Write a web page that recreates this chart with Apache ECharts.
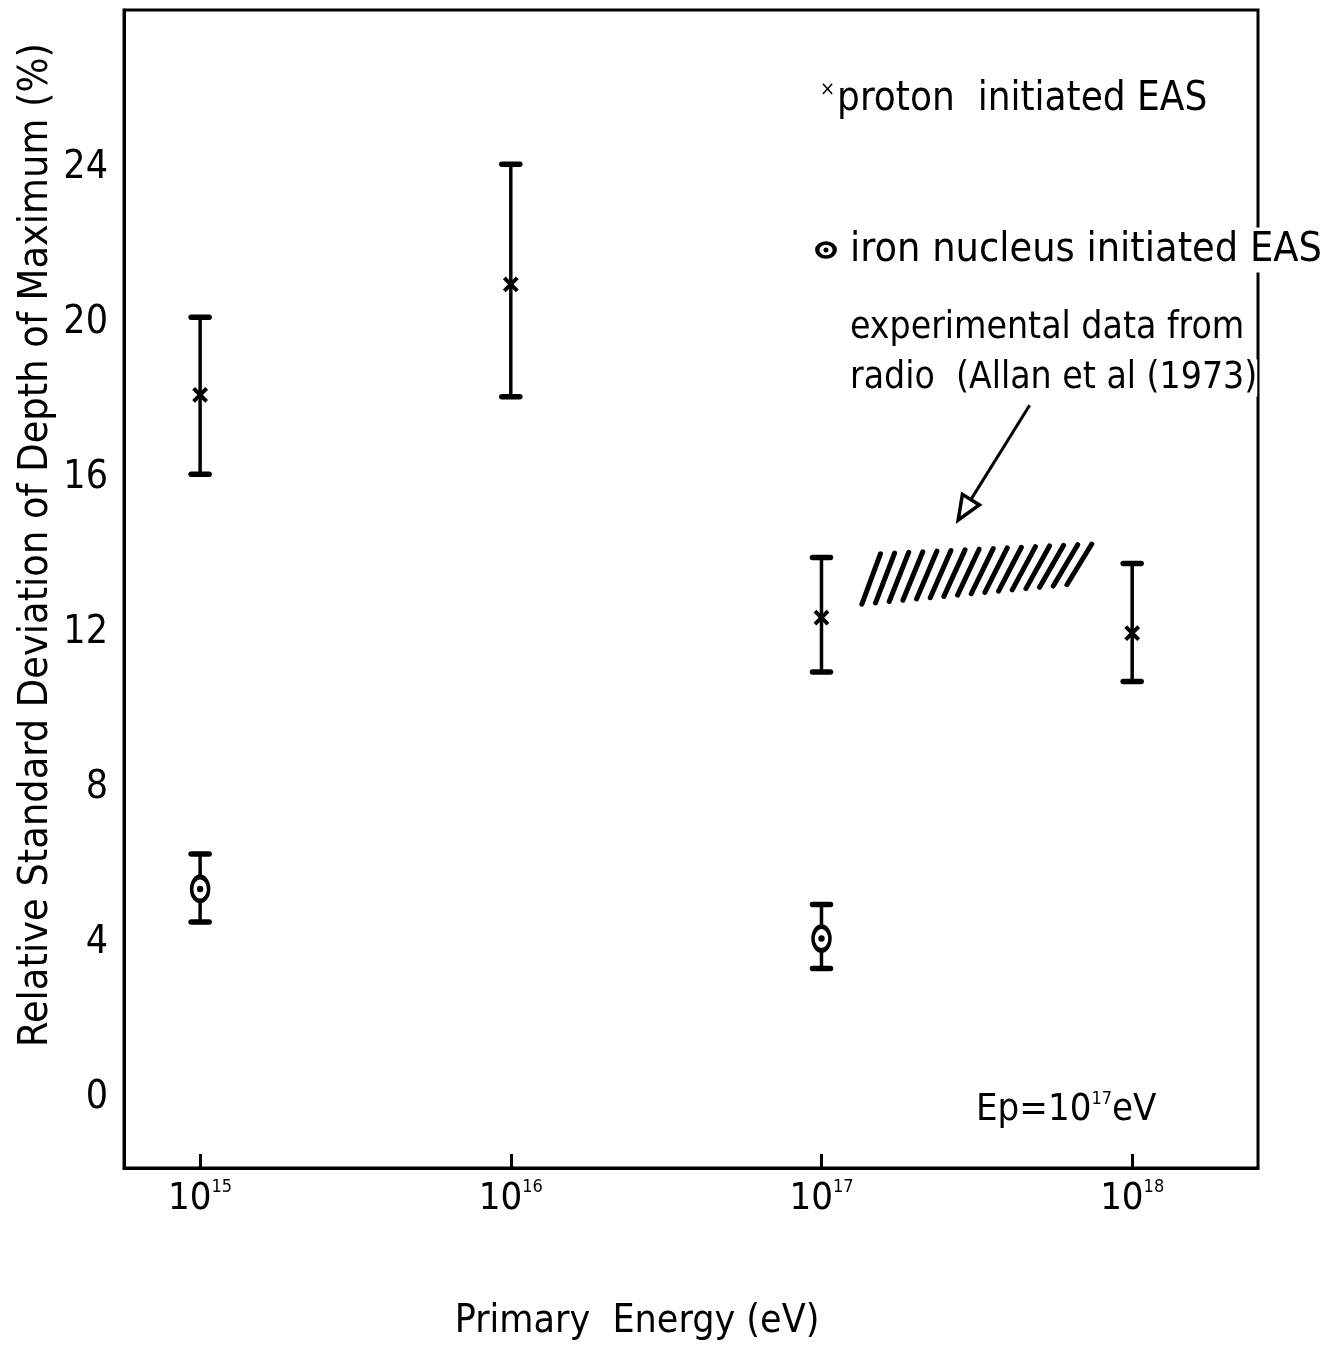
<!DOCTYPE html>
<html>
<head>
<meta charset="utf-8">
<script src="https://cdn.jsdelivr.net/npm/echarts@6/dist/echarts.min.js"></script>
<style>
html,body{margin:0;padding:0;background:#fff;}
#c{width:1339px;height:1345px;}
</style>
</head>
<body>
<div id="c"></div>
<script>
// ---- data (x values are log10 of primary energy in eV) ----
const xTickExp = [15, 16, 17, 18];
const yTickValues = [0, 4, 8, 12, 16, 20, 24];

const protonExp  = [15, 16, 17, 18];
const protonMean = [18.15, 21.0, 12.4, 12.0];
const protonLow  = [16.1, 18.1, 11.0, 10.75];
const protonHigh = [20.15, 24.1, 13.95, 13.8];

const ironExp  = [15, 17];
const ironMean = [5.4, 4.12];
const ironLow  = [4.55, 3.35];
const ironHigh = [6.3, 5.0];

// experimental band (radio, Allan et al 1973): bottom edge and top edge
const bandBottom = [[17.13, 12.75], [17.79, 13.25]];
const bandTop    = [[17.19, 14.05], [17.87, 14.30]];

// arrow from annotation to band
const arrowFrom = [17.67, 17.88];
const arrowTo   = [17.44, 14.92];

const FONT = "'DejaVu Sans Condensed','Liberation Sans',sans-serif";

const chart = echarts.init(document.getElementById('c'), null, {renderer: 'canvas'});

function errRender(kind) {
  return function (params, api) {
    const x = api.value(0);
    const pLo = api.coord([x, api.value(1)]);
    const pHi = api.coord([x, api.value(2)]);
    const pM = api.coord([x, api.value(3)]);
    const cw = 9;
    const st = {stroke: '#000', lineWidth: 3.5, lineCap: 'round'};
    const capSt = {stroke: '#000', lineWidth: 5.5, lineCap: 'round'};
    const ch = [
      {type: 'line', shape: {x1: pLo[0], y1: pLo[1], x2: pHi[0], y2: pHi[1]}, style: st},
      {type: 'line', shape: {x1: pLo[0] - cw, y1: pLo[1], x2: pLo[0] + cw, y2: pLo[1]}, style: capSt},
      {type: 'line', shape: {x1: pHi[0] - cw, y1: pHi[1], x2: pHi[0] + cw, y2: pHi[1]}, style: capSt}
    ];
    if (kind === 'proton') {
      const s = 6.5;
      ch.push({type: 'line', shape: {x1: pM[0] - s, y1: pM[1] - s, x2: pM[0] + s, y2: pM[1] + s}, style: {stroke: '#000', lineWidth: 4}});
      ch.push({type: 'line', shape: {x1: pM[0] - s, y1: pM[1] + s, x2: pM[0] + s, y2: pM[1] - s}, style: {stroke: '#000', lineWidth: 4}});
    } else {
      ch.push({type: 'circle', shape: {cx: 0, cy: 0, r: 8.5}, x: pM[0], y: pM[1], scaleY: 1.4,
        style: {fill: '#fff', stroke: '#000', lineWidth: 3.5, strokeNoScale: true}});
      ch.push({type: 'circle', shape: {cx: pM[0], cy: pM[1], r: 3.2}, style: {fill: '#000'}});
    }
    return {type: 'group', children: ch};
  };
}

const protonData = protonExp.map((x, i) => [x, protonLow[i], protonHigh[i], protonMean[i]]);
const ironData = ironExp.map((x, i) => [x, ironLow[i], ironHigh[i], ironMean[i]]);

function bandRender(params, api) {
  const bl = api.coord(bandBottom[0]), br = api.coord(bandBottom[1]);
  const tl = api.coord(bandTop[0]), tr = api.coord(bandTop[1]);
  const n = 16;
  const ch = [];
  for (let i = 0; i < n; i++) {
    const t = i / (n - 1);
    const b = [bl[0] + (br[0] - bl[0]) * t, bl[1] + (br[1] - bl[1]) * t];
    const tp = [tl[0] + (tr[0] - tl[0]) * t, tl[1] + (tr[1] - tl[1]) * t];
    ch.push({type: 'line', shape: {x1: b[0], y1: b[1], x2: tp[0], y2: tp[1]},
      style: {stroke: '#000', lineWidth: 5, lineCap: 'round'}});
  }
  return {type: 'group', children: ch};
}

function arrowRender(params, api) {
  const a = api.coord(arrowFrom), b = api.coord(arrowTo);
  const ang = Math.atan2(b[1] - a[1], b[0] - a[0]);
  const L = 24, W = 10;
  const base = [b[0] - L * Math.cos(ang), b[1] - L * Math.sin(ang)];
  const p1 = [base[0] + W * Math.sin(ang), base[1] - W * Math.cos(ang)];
  const p2 = [base[0] - W * Math.sin(ang), base[1] + W * Math.cos(ang)];
  return {type: 'group', children: [
    {type: 'line', shape: {x1: a[0], y1: a[1], x2: base[0], y2: base[1]}, style: {stroke: '#000', lineWidth: 3}},
    {type: 'polygon', shape: {points: [b, p1, p2]}, style: {fill: '#fff', stroke: '#000', lineWidth: 3.5}}
  ]};
}

const option = {
  backgroundColor: '#fff',
  animation: false,
  grid: {left: 124, right: 81, top: 10, bottom: 177, show: true, borderColor: '#000', borderWidth: 3, backgroundColor: 'transparent'},
  xAxis: {
    type: 'value', min: 14.755, max: 18.405,
    splitLine: {show: false},
    axisLine: {show: true, onZero: false, lineStyle: {color: '#000', width: 3}},
    axisTick: {show: true, inside: true, length: 14, customValues: xTickExp, lineStyle: {color: '#000', width: 3}},
    axisLabel: {
      customValues: xTickExp, margin: 10, color: '#000',
      formatter: v => '{b|10}{s|' + Math.round(v) + '}',
      rich: {b: {fontSize: 38, fontFamily: FONT, color: '#000', verticalAlign: 'bottom'},
             s: {fontSize: 18, fontFamily: FONT, color: '#000', verticalAlign: 'top', padding: [0, 0, 22, 0]}}
    }
  },
  yAxis: {
    type: 'value', min: -1.8, max: 28.08,
    splitLine: {show: false},
    axisLine: {show: true, onZero: false, lineStyle: {color: '#000', width: 3}},
    axisTick: {show: false},
    axisLabel: {customValues: yTickValues, margin: 16, fontSize: 39, fontFamily: FONT, color: '#000'}
  },
  series: [
    {type: 'custom', name: 'proton', renderItem: errRender('proton'), data: protonData, encode: {x: 0, y: [1, 2, 3]}, silent: true, z: 3},
    {type: 'custom', name: 'iron', renderItem: errRender('iron'), data: ironData, encode: {x: 0, y: [1, 2, 3]}, silent: true, z: 3},
    {type: 'custom', name: 'band', renderItem: bandRender, data: [[bandBottom[0][0], bandBottom[0][1]]], silent: true, z: 2},
    {type: 'custom', name: 'arrow', renderItem: arrowRender, data: [[arrowFrom[0], arrowFrom[1]]], silent: true, z: 2}
  ],
  graphic: [
    {type: 'text', x: 36, y: 545, rotation: Math.PI / 2,
     style: {text: 'Relative Standard Deviation of Depth of Maximum (%)', font: '41px ' + FONT, fill: '#000', align: 'center', verticalAlign: 'middle'}},
    {type: 'text', x: 637, y: 1322, style: {text: 'Primary  Energy (eV)', font: '39px ' + FONT, fill: '#000', align: 'center', verticalAlign: 'middle'}},
    {type: 'text', x: 820, y: 100, style: {
      text: '{s|×}{t|proton  initiated EAS}', verticalAlign: 'middle', align: 'left',
      rich: {s: {font: '20px ' + FONT, fill: '#000', verticalAlign: 'top', padding: [0, 2, 18, 0]}, t: {font: '40px ' + FONT, fill: '#000'}}}},
    {type: 'text', x: 846, y: 250, z: 10, style: {
      text: 'iron nucleus initiated EAS', verticalAlign: 'middle', align: 'left', font: '41px ' + FONT, fill: '#000',
      backgroundColor: '#fff', padding: [2, 4, 2, 4]}},
    {type: 'text', x: 850, y: 328, z: 10, style: {text: 'experimental data from', verticalAlign: 'middle', align: 'left', font: '37px ' + FONT, fill: '#000'}},
    {type: 'text', x: 850, y: 378, z: 10, style: {text: 'radio  (Allan et al (1973)', verticalAlign: 'middle', align: 'left', font: '37px ' + FONT, fill: '#000', backgroundColor: '#fff'}},
    {type: 'text', x: 976, y: 1110, style: {
      text: '{t|Ep=10}{s|17}{t|eV}', verticalAlign: 'middle', align: 'left',
      rich: {t: {font: '38px ' + FONT, fill: '#000'}, s: {font: '18px ' + FONT, fill: '#000', verticalAlign: 'top', padding: [0, 0, 22, 0]}}}},
    {type: 'group', x: 826, y: 250, children: [
      {type: 'circle', shape: {cx: 0, cy: 0, r: 7}, scaleX: 1.25, style: {fill: '#fff', stroke: '#000', lineWidth: 3.5, strokeNoScale: true}},
      {type: 'circle', shape: {cx: 0, cy: 0, r: 2.5}, style: {fill: '#000'}}
    ]}
  ]
};
chart.setOption(option);
</script>
</body>
</html>
